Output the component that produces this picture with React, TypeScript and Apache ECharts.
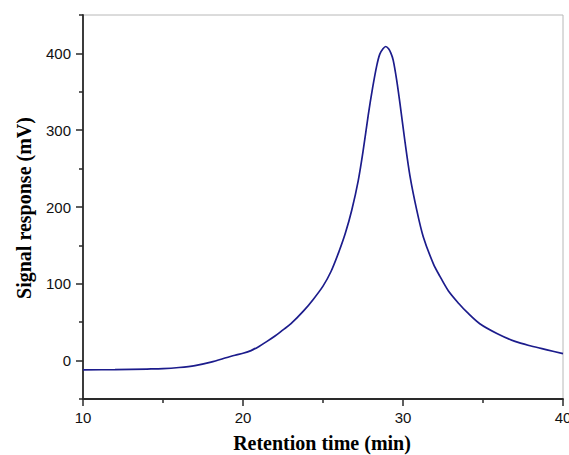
import React, { useEffect, useRef } from "react";
import * as echarts from "echarts";

const retentionTime = [
  10, 12, 14, 15, 16, 17, 18, 19, 19.5, 20, 20.5, 21, 21.5, 22, 22.5, 23, 23.8, 24.4, 25,
  25.5, 26, 26.4, 26.8, 27.2, 27.5, 27.83, 28.1, 28.36, 28.55, 28.75, 28.92, 29.1, 29.25,
  29.39, 29.6, 29.81, 30.13, 30.44, 30.86, 31.27, 31.9, 32.3, 32.83, 33.5, 34, 34.8, 35.9,
  37, 38, 39, 40,
];
const signal = [
  -12, -11.8, -11, -10.5, -9, -6.5, -2, 4, 7, 9.5, 13, 18.5, 25, 32, 40, 48, 65, 80, 97,
  116, 142, 166, 196, 234, 272, 320, 355, 384, 399, 406, 409, 406, 400, 391, 366, 335, 284,
  240, 196, 161, 126, 110, 91, 74, 63, 48, 35, 25, 19, 14, 9,
];
const yMajorTicks = [0, 100, 200, 300, 400];
const yMinorTicks = [-50, 50, 150, 250, 350, 450];
const xTitle = "Retention time (min)";
const yTitle = "Signal response (mV)";

export default function App() {
  const ref = useRef<HTMLDivElement>(null);
  useEffect(() => {
    document.body.style.margin = "0";
    const chart = echarts.init(ref.current!, null, { renderer: "svg" });
    const axisColor = "#2a2a2a";
    const titleStyle = {
      textAlign: "center",
      textVerticalAlign: "middle",
      fontFamily: "Liberation Serif",
      fontWeight: "bold",
      fontSize: 20,
      fill: "#000",
    };
    chart.setOption({
      animation: false,
      backgroundColor: "#ffffff",
      grid: {
        left: 83,
        right: 6,
        top: 15,
        bottom: 56,
        containLabel: false,
        outerBoundsMode: "none",
        show: true,
        borderColor: "#b8b8b8",
        borderWidth: 1,
      },
      xAxis: {
        type: "value",
        min: 10,
        max: 40,
        interval: 10,
        axisLine: { show: true, onZero: false, lineStyle: { color: axisColor, width: 1.8 } },
        axisTick: { show: true, length: 7, lineStyle: { color: axisColor, width: 1.5 } },
        minorTick: { show: true, splitNumber: 2, length: 4, lineStyle: { color: axisColor, width: 1.5 } },
        splitLine: { show: false },
        axisLabel: {
          color: "#111",
          fontFamily: "Liberation Sans",
          fontSize: 15,
          margin: 11,
        },
      },
      yAxis: [
        {
          type: "value",
          min: -50,
          max: 450,
          axisLine: { show: true, onZero: false, lineStyle: { color: axisColor, width: 1.8 } },
          axisTick: {
            show: true,
            length: 7,
            customValues: yMajorTicks,
            lineStyle: { color: axisColor, width: 1.5 },
          },
          splitLine: { show: false },
          axisLabel: {
            customValues: yMajorTicks,
            color: "#111",
            fontFamily: "Liberation Sans",
            fontSize: 15,
            margin: 12,
          },
        },
        {
          type: "value",
          position: "left",
          min: -50,
          max: 450,
          axisLine: { show: false, onZero: false },
          axisTick: {
            show: true,
            length: 4,
            customValues: yMinorTicks,
            lineStyle: { color: axisColor, width: 1.5 },
          },
          axisLabel: { show: false },
          splitLine: { show: false },
        },
      ],
      graphic: [
        { type: "text", x: 322, y: 443, style: { ...titleStyle, text: xTitle } },
        { type: "text", x: 24, y: 208, rotation: Math.PI / 2, style: { ...titleStyle, text: yTitle } },
      ],
      series: [
        {
          type: "line",
          data: retentionTime.map((t, i) => [t, signal[i]]),
          smooth: 0.3,
          showSymbol: false,
          symbol: "none",
          lineStyle: { color: "#1c1c8c", width: 1.7 },
          yAxisIndex: 0,
        },
      ],
    });
    return () => chart.dispose();
  }, []);
  return <div ref={ref} style={{ width: 569, height: 455 }} />;
}
